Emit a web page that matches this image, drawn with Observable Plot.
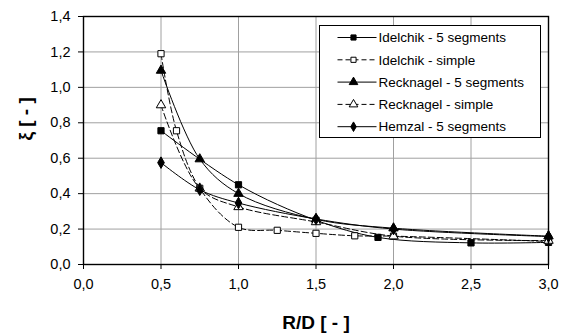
<!DOCTYPE html>
<html><head><meta charset="utf-8">
<script src="https://cdn.jsdelivr.net/npm/d3@7"></script>
<script src="https://cdn.jsdelivr.net/npm/@observablehq/plot@0.6"></script>
<style>
body{margin:0;background:#fff}
svg{font-family:"Liberation Sans",Arial,sans-serif}
</style>
</head><body><div id="chart"></div>
<script>
// ---- data ----
const seriesNames = ["Idelchik - 5 segments","Idelchik - simple","Recknagel - 5 segments","Recknagel - simple","Hemzal - 5 segments"];
const seriesSymbols = ["square","square","triangle","triangle","diamond"];
const seriesFilled = [true,false,true,false,true];
const seriesDashed = [false,true,false,true,false];

const xIdelchik5 = [0.5, 1.0, 1.5, 1.9, 2.5, 3.0];
const yIdelchik5 = [0.755, 0.45, 0.25, 0.153, 0.122, 0.125];
const xIdelchikS = [0.5, 0.6, 0.75, 1.0, 1.25, 1.5, 1.75, 2.0, 3.0];
const yIdelchikS = [1.19, 0.755, 0.43, 0.21, 0.193, 0.176, 0.162, 0.16, 0.13];
const xRecknagel5 = [0.5, 0.75, 1.0, 1.5, 2.0, 3.0];
const yRecknagel5 = [1.095, 0.595, 0.40, 0.255, 0.205, 0.16];
const xRecknagelS = [0.5, 0.75, 1.0, 1.5, 2.0, 3.0];
const yRecknagelS = [0.90, 0.43, 0.325, 0.24, 0.16, 0.135];
const xHemzal5 = [0.5, 0.75, 1.0, 1.5, 2.0, 3.0];
const yHemzal5 = [0.575, 0.422, 0.347, 0.257, 0.20, 0.158];

const xTicks = [0, 0.5, 1.0, 1.5, 2.0, 2.5, 3.0];
const yTicks = [0, 0.2, 0.4, 0.6, 0.8, 1.0, 1.2, 1.4];
const xLabel = "R/D [ - ]";
const yLabel = "ξ [ - ]";

const xs = [xIdelchik5, xIdelchikS, xRecknagel5, xRecknagelS, xHemzal5];
const ys = [yIdelchik5, yIdelchikS, yRecknagel5, yRecknagelS, yHemzal5];
const series = seriesNames.map((name, i) => ({
  name, symbol: seriesSymbols[i], filled: seriesFilled[i], dashed: seriesDashed[i],
  data: xs[i].map((x, j) => ({x, y: ys[i][j]}))
}));

const fmt = d => d3.format(".1f")(d).replace(".", ",");

const marks = [
  Plot.gridX(xTicks, {stroke: "#a0a0a0", strokeOpacity: 1}),
  Plot.gridY(yTicks, {stroke: "#a0a0a0", strokeOpacity: 1}),
  Plot.axisX({ticks: xTicks, tickFormat: fmt, tickSize: 5, tickPadding: 9, fontSize: 14.5, label: null, stroke: "black"}),
  Plot.axisY({ticks: yTicks, tickFormat: fmt, tickSize: 5, tickPadding: 8, fontSize: 14.5, label: null, stroke: "black"}),
];
series.forEach(s => {
  marks.push(Plot.line(s.data, {x: "x", y: "y", curve: "catmull-rom", stroke: "black", strokeWidth: 1,
    strokeDasharray: s.dashed ? "6,3" : null}));
});
series.forEach(s => {
  marks.push(Plot.dot(s.data, {x: "x", y: "y", symbol: () => s.symbol, r: s.symbol === "triangle" ? 3.5 : 3.5,
    fill: s.filled ? "black" : "white", stroke: "black", strokeWidth: 1}));
});
marks.push(Plot.frame({stroke: "black", strokeWidth: 1.4}));
marks.push(Plot.text([xLabel], {frameAnchor: "bottom", lineAnchor: "middle", dy: 58, fontWeight: "bold", fontSize: 19, fill: "black"}));
marks.push(Plot.text([yLabel], {frameAnchor: "left", lineAnchor: "middle", rotate: -90, dx: -58, fontWeight: "bold", fontSize: 19, fill: "black"}));

const svg = Plot.plot({
  width: 567, height: 333,
  marginLeft: 83, marginRight: 19, marginTop: 16, marginBottom: 69,
  x: {domain: [0, 3]},
  y: {domain: [0, 1.4]},
  symbol: {type: "identity"},
  style: {background: "white", color: "black", fontFamily: "'Liberation Sans', Arial, sans-serif"},
  marks
});

// ---- legend ----
const symMap = {square: d3.symbolSquare, triangle: d3.symbolTriangle, diamond: d3.symbolDiamond};
const lg = d3.select(svg).append("g").attr("transform", "translate(319.5,25.5)");
lg.append("rect").attr("width", 221).attr("height", 112).attr("fill", "white").attr("stroke", "black").attr("stroke-width", 1);
series.forEach((s, i) => {
  const cy = 12 + i * 22.3;
  lg.append("line").attr("x1", 18).attr("x2", 57).attr("y1", cy).attr("y2", cy)
    .attr("stroke", "black").attr("stroke-dasharray", s.dashed ? "5,3" : null);
  const r = s.symbol === "triangle" ? 3.2 : 2.9;
  lg.append("path").attr("d", d3.symbol(symMap[s.symbol], r * r * Math.PI)())
    .attr("transform", `translate(34,${cy})`)
    .attr("fill", s.filled ? "black" : "white").attr("stroke", "black");
  lg.append("text").attr("x", 59).attr("y", cy).attr("dy", "0.35em")
    .attr("text-anchor", "start").attr("font-size", 13.5).attr("fill", "black").text(s.name);
});

document.getElementById("chart").appendChild(svg);
</script>
</body></html>
